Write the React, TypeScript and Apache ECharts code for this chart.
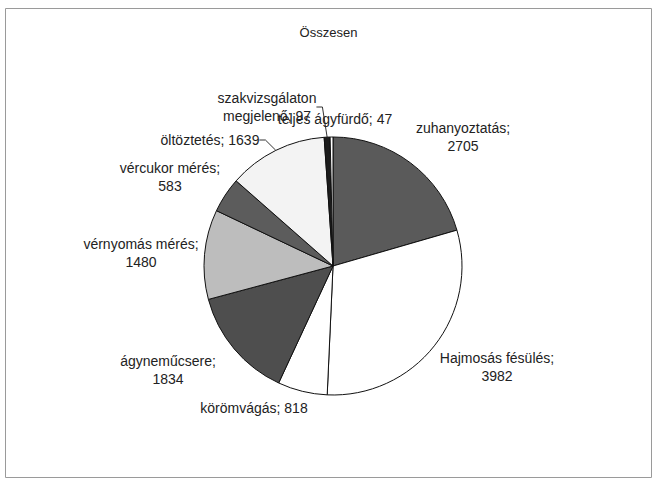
import React, { useEffect, useRef } from "react";
import * as echarts from "echarts";

const titleText = "Összesen";
const categories = [
  "zuhanyoztatás",
  "Hajmosás fésülés",
  "körömvágás",
  "ágyneműcsere",
  "vérnyomás mérés",
  "vércukor mérés",
  "öltöztetés",
  "szakvizsgálaton megjelenő",
  "teljes ágyfürdő",
];
const values = [2705, 3982, 818, 1834, 1480, 583, 1639, 97, 47];

// styling / layout (not data)
const sliceColors = ["#5a5a5a", "#ffffff", "#ffffff", "#4e4e4e", "#bdbdbd", "#5c5c5c", "#f3f3f3", "#1c1c1c", "#ffffff"];
const labelBreaks = ["semi", "semi", "none", "semi", "semi", "semi", "none", "name", "none"];
const labelLines = [false, false, false, false, false, false, true, true, false];
const labelCenters = [
  [463, 137],
  [497, 367],
  [254, 408],
  [168, 370],
  [141, 253],
  [170, 177],
  [210, 140],
  [267, 107],
  [335, 119],
];

const FONT = "'Liberation Sans', Arial, sans-serif";

export default function App() {
  const ref = useRef<HTMLDivElement>(null);
  useEffect(() => {
    if (!ref.current) return;
    const chart = echarts.init(ref.current, undefined, { renderer: "svg" });
    const data = categories.map((name, i) => ({
      name,
      value: values[i],
      itemStyle: { color: sliceColors[i] },
      labelLine: { show: labelLines[i] },
    }));
    chart.setOption({
      animation: false,
      backgroundColor: "#ffffff",
      title: {
        text: titleText,
        left: "center",
        top: 21,
        textStyle: { fontFamily: FONT, fontSize: 13, fontWeight: "normal", color: "#222" },
      },
      graphic: [
        {
          type: "rect",
          shape: { x: 5.5, y: 8.5, width: 646, height: 469 },
          style: { fill: "none", stroke: "#9a9a9a", lineWidth: 1 },
          silent: true,
        },
      ],
      series: [
        {
          type: "pie",
          center: [333, 266],
          radius: 129,
          startAngle: 90,
          clockwise: true,
          avoidLabelOverlap: false,
          itemStyle: { borderColor: "#111", borderWidth: 1 },
          emphasis: { disabled: true },
          data,
          label: {
            show: true,
            position: "outside",
            fontFamily: FONT,
            fontSize: 14,
            color: "#222",
            lineHeight: 18,
            formatter: (p: any) => {
              const b = labelBreaks[p.dataIndex];
              if (b === "semi") return `${p.name};\n${p.value}`;
              if (b === "name") {
                const parts = String(p.name).split(" ");
                return `${parts[0]}\n${parts.slice(1).join(" ")}; ${p.value}`;
              }
              return `${p.name}; ${p.value}`;
            },
          },
          labelLine: {
            show: true,
            length: 6,
            length2: 6,
            lineStyle: { color: "#333", width: 1 },
          },
          labelLayout: (params: any) => {
            const c = labelCenters[params.dataIndex];
            return { x: c[0], y: c[1], align: "center", verticalAlign: "middle" };
          },
        },
      ],
    });
    return () => chart.dispose();
  }, []);
  return (
    <div
      ref={ref}
      style={{ position: "fixed", left: 0, top: 0, width: 657, height: 480 }}
    />
  );
}
